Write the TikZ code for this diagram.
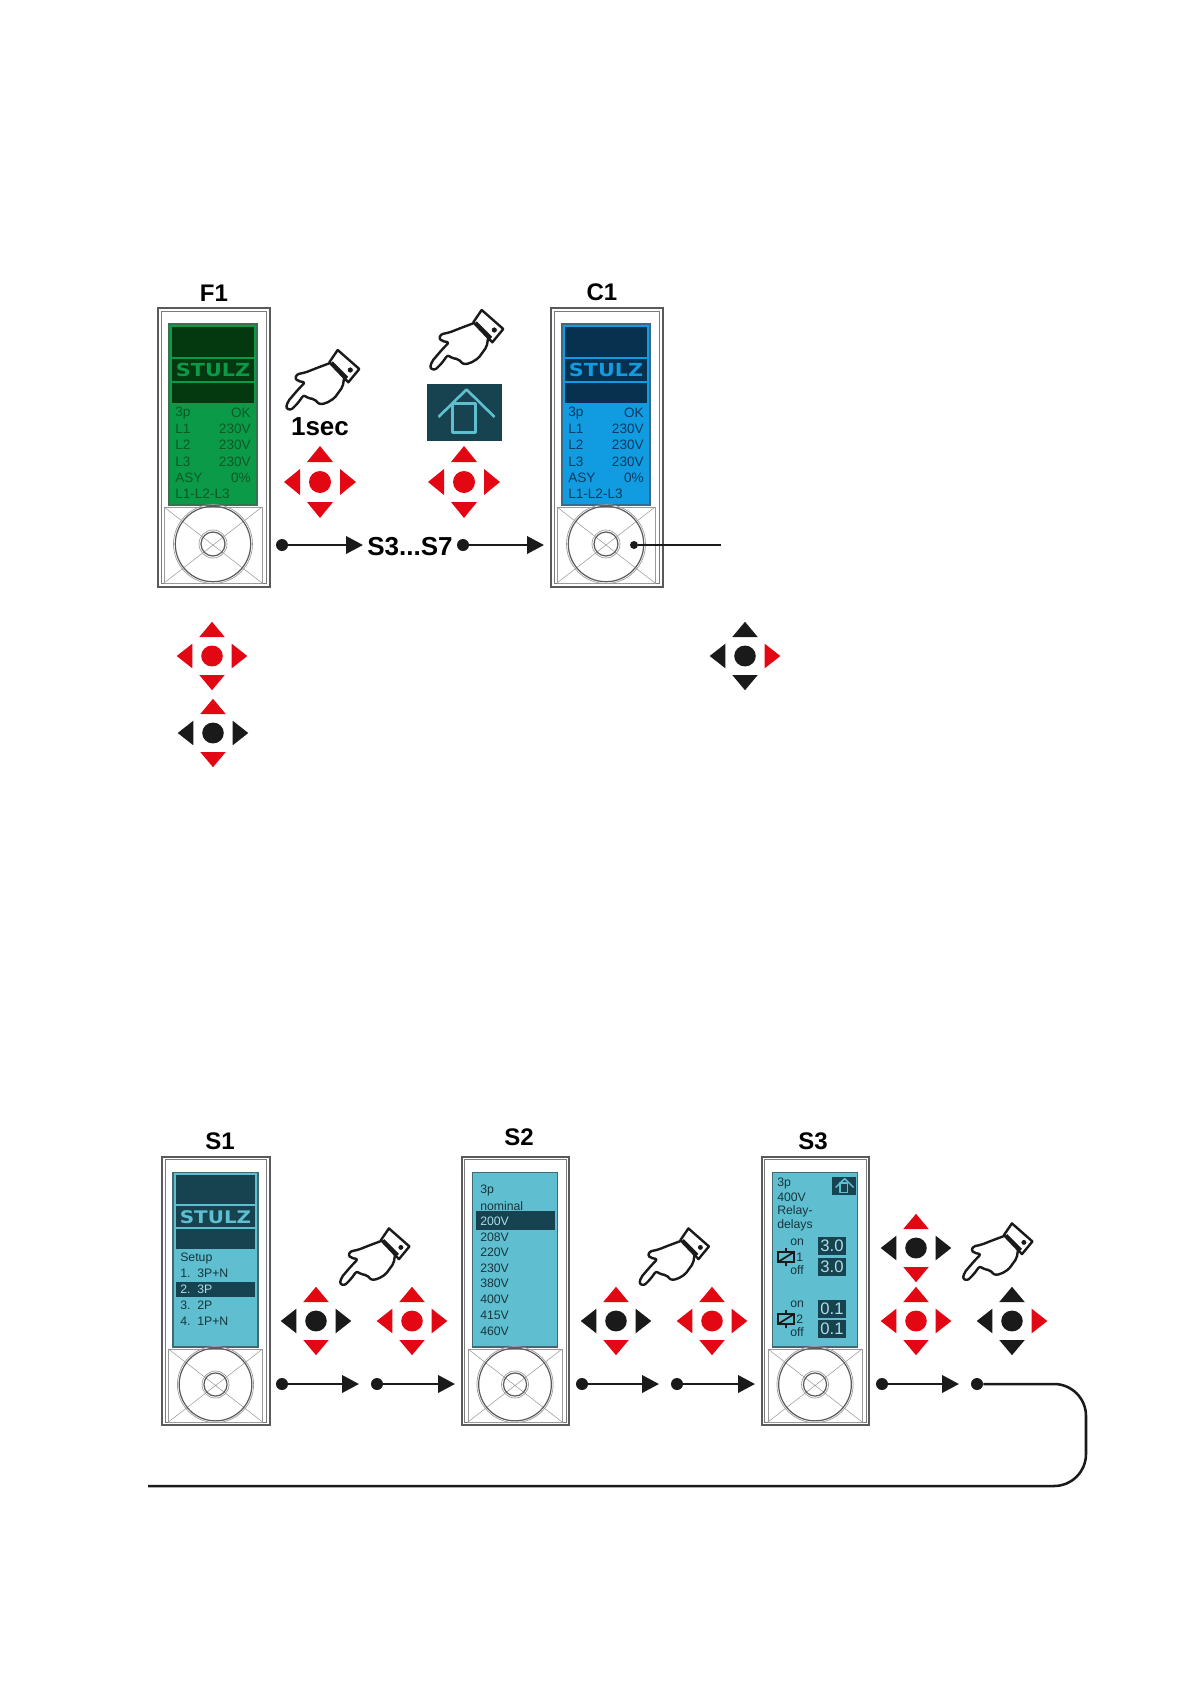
\documentclass[tikz,border=0pt]{standalone}
\usepackage{fontspec}
\setmainfont{Liberation Sans}
\newfontfamily\logofont{DejaVu Sans}
\usetikzlibrary{arrows.meta}
\definecolor{markred}{HTML}{E30613}
\definecolor{markblack}{HTML}{1A1A1A}
\definecolor{framegray}{HTML}{5A5A5A}
\definecolor{knobgray}{HTML}{9A9A9A}
\definecolor{lcdgreen}{HTML}{0A9A48}
\definecolor{lcdgreenB}{HTML}{3C6E50}
\definecolor{darkgreen}{HTML}{04380F}
\definecolor{textgreen}{HTML}{0B5A25}
\definecolor{lcdblue}{HTML}{119BE0}
\definecolor{lcdblueB}{HTML}{3A6A85}
\definecolor{darkblue}{HTML}{07314F}
\definecolor{textblue}{HTML}{0A3A5E}
\definecolor{lcdteal}{HTML}{5FBFD0}
\definecolor{lcdtealB}{HTML}{3F6A72}
\definecolor{darkteal}{HTML}{17424F}
\definecolor{textteal}{HTML}{17353D}
\definecolor{lightteal}{HTML}{A9DEE8}
\begin{document}
\begin{tikzpicture}[x=.75pt,y=-.75pt,
    title/.style={font=\fontsize{18}{20}\selectfont\bfseries, inner sep=0pt},
    lcd/.style={font=\fontsize{10.2}{12}\selectfont, inner sep=0pt},
    lcdS/.style={font=\fontsize{9.2}{11}\selectfont, inner sep=0pt, anchor=west, text=textteal},
    logo/.style={font=\logofont\fontsize{13.5}{15}\selectfont\bfseries, inner sep=0pt, xscale=1.15, transform shape},
    valbox/.style={fill=darkteal, text=lightteal, minimum width=21pt, minimum height=13.5pt, inner sep=0pt, font=\fontsize{12.5}{14}\selectfont},
    dot/.style={circle, fill=markblack, inner sep=0pt, minimum size=9pt},
    edge/.style={-{Triangle[length=12.7pt,width=13pt]}, line width=1.9pt, draw=markblack},
    wire/.style={line width=1.9pt, draw=markblack},
    pics/panel/.style n args={2}{code={
      \draw[framegray, line width=1.5pt] (-56,-139.5) rectangle (56,139.5);
      \draw[framegray!80, line width=.7pt] (-52.5,-136) rectangle (52.5,136);
      \fill[#1, draw=#2, line width=1.2pt] (-44.5,-123) rectangle (43.5,58);
      \draw[knobgray, line width=.4pt] (-49.5,60) rectangle (48.5,136);
      \draw[knobgray, line width=.4pt] (-49.5,60) -- (48.5,136) (-49.5,136) -- (48.5,60);
      \draw[knobgray, line width=.5pt] (-.5,97) circle[radius=39.5];
      \draw[framegray, line width=.9pt] (-.5,97) circle[radius=37.7];
      \draw[knobgray, line width=.5pt] (-.5,97) circle[radius=14];
      \draw[framegray, line width=.9pt] (-.5,97) circle[radius=12];
    }},
    pics/bands/.style n args={2}{code={
      \fill[#1] (-41.5,-120) rectangle (40.5,-90);
      \fill[#1] (-41.5,-88) rectangle (40.5,-66);
      \fill[#1] (-41.5,-64.5) rectangle (40.5,-44);
      \node[logo, text=#2] (name) at (-.5,-77) {STULZ};
    }},
    pics/dpad/.style n args={3}{code={
      \fill[#1] (0,-36) -- (13,-20) -- (-13,-20) -- cycle;
      \fill[#1] (0,36) -- (13,20) -- (-13,20) -- cycle;
      \fill[#2] (-36,0) -- (-20,-13) -- (-20,13) -- cycle;
      \fill[#3] (36,0) -- (20,-13) -- (20,13) -- cycle;
      \fill[#2] (0,0) circle[radius=11];
    }},
    pics/hand/.style={code={
      \draw[markblack, line width=1.8pt, line join=round, rounded corners=1.6pt, fill=white]
        (7.3,-14.7) -- (-6,-9.7) -- (-16,-5.7) -- (-25,-3.7) -- (-27,.3) -- (-24.3,3) -- (-17,4.3)
        -- (-24.3,12) -- (-34.3,23.7) -- (-36,30.3) -- (-31,32) -- (-24.3,25.3) -- (-18.3,17) -- (-13.7,20.3)
        -- (-7.7,21) -- (-2.7,26.3) -- (4,25.3) -- (12.3,20.3) -- (20.7,8.7) -- (22.3,-1.3);
      \draw[markblack, line width=1.8pt, line join=round, fill=white]
        (15.7,-28) -- (37.3,-9) -- (26.3,4.3) -- (7.3,-15.7) -- cycle;
      \draw[markblack, line width=2.6pt] (9.5,-15.5) -- (25,0);
      \fill[markblack] (28.3,-8) circle[radius=2.6];
    }},
    pics/home/.style={code={
      \fill[darkteal] (-37.5,-28.5) rectangle (37.5,28.5);
      \draw[lcdteal, line join=round] (-26,4.5) -- (2,-23) -- (30,4.5);
      \draw[lcdteal, line join=round] (-12,-9) rectangle (11,20);
    }},
    pics/relay/.style={code={
      \draw[markblack, line width=1.3pt] (-8,-5) rectangle (8,5);
      \draw[markblack, line width=1.3pt] (0,-9) -- (0,-5) (0,5) -- (0,9) (-8,5) -- (8,-5);
    }}]

  \useasboundingbox (0,0) rectangle (1191,1684);

  \pic (panF) at (213.5,447) {panel={lcdgreen}{lcdgreenB}};
  \pic (banF) at (213.5,447) {bands={darkgreen}{lcdgreen}};
  \pic (panC) at (606.5,447) {panel={lcdblue}{lcdblueB}};
  \pic (banC) at (606.5,447) {bands={darkblue}{lcdblue}};
  \pic[scale=.964] (panA) at (216,1291) {panel={lcdteal}{lcdtealB}};
  \pic[scale=.964] (banA) at (216,1291) {bands={darkteal}{lcdteal}};
  \pic[scale=.964] (panB) at (515.5,1291) {panel={lcdteal}{lcdtealB}};
  \pic[scale=.964] (panD) at (815.5,1291) {panel={lcdteal}{lcdtealB}};

  \node[title] (f1) at (214,293) {F1};
  \node[title] (c1) at (602,292) {C1};
  \node[title] (s1) at (220,1141) {S1};
  \node[title] (s2) at (519,1137) {S2};
  \node[title] (s3) at (813,1141) {S3};
  \node[title, font=\fontsize{19.5}{21}\selectfont\bfseries] (sec) at (320,427) {1sec};
  \node[title, font=\fontsize{19.5}{21}\selectfont\bfseries] (range) at (410,547) {S3...S7};

  \foreach \y/\a/\b in {413/3p/OK,429/L1/230V,445/L2/230V,462/L3/230V,478/ASY/0\%} {
    \node[lcd, anchor=west, text=textgreen] (fl\y) at (175,\y) {\a};
    \node[lcd, anchor=east, text=textgreen] (fr\y) at (251,\y) {\b};
    \node[lcd, anchor=west, text=textblue] (cl\y) at (568,\y) {\a};
    \node[lcd, anchor=east, text=textblue] (cr\y) at (644,\y) {\b};
  }
  \node[lcd, anchor=west, text=textgreen] (fl494) at (175,494) {L1-L2-L3};
  \node[lcd, anchor=west, text=textblue] (cl494) at (568,494) {L1-L2-L3};

  \fill[darkteal] (176,1282) rectangle (255,1297);
  \node[lcdS] (setup) at (180,1258) {Setup};
  \foreach \y/\a/\b/\c in {1273/1./3P+N/textteal,1289/2./3P/lightteal,1305/3./2P/textteal,1321/4./1P+N/textteal} {
    \node[lcdS, text=\c] (sn\y) at (180,\y) {\a};
    \node[lcdS, text=\c] (sv\y) at (197,\y) {\b};
  }

  \fill[darkteal] (476,1211) rectangle (555,1230);
  \foreach \y/\a/\c in {1190/3p/textteal,1206/nominal/textteal,1221/200V/lightteal,1237/208V/textteal,1252/220V/textteal,1268/230V/textteal,1283/380V/textteal,1299/400V/textteal,1315/415V/textteal,1331/460V/textteal} {
    \node[lcdS, text=\c] (v\y) at (480,\y) {\a};
  }

  \foreach \y/\a in {1183/3p,1197/400V,1211/Relay-,1225/delays} {
    \node[lcdS] (r\y) at (777,\y) {\a};
  }
  \pic[scale=.32, line width=1.1pt] (homeS) at (844,1186) {home};
  \pic (relA) at (786,1257) {relay};
  \pic (relB) at (786,1319) {relay};
  \foreach \y/\a in {1242/on,1270/off,1304/on,1332/off} {
    \node[lcdS] (t\y) at (790,\y) {\a};
  }
  \node[lcdS] (one) at (796,1257) {1};
  \node[lcdS] (two) at (796,1319) {2};
  \node[valbox] (va) at (832,1246) {3.0};
  \node[valbox] (vb) at (832,1267) {3.0};
  \node[valbox] (vc) at (832,1309) {0.1};
  \node[valbox] (vd) at (832,1329) {0.1};

  \pic (handA) at (322,378) {hand};
  \pic (handB) at (466,338) {hand};
  \pic[scale=.95] (handC) at (374,1255) {hand};
  \pic[scale=.95] (handD) at (673.5,1255) {hand};
  \pic[scale=.95] (handE) at (997,1250) {hand};
  \pic[line width=2pt] (homeA) at (464.5,412.5) {home};

  \foreach \x/\y in {320/482,464/482} {
    \pic at (\x,\y) {dpad={markred}{markred}{markred}};
  }
  \foreach \x/\y in {212/656,412/1321,712/1321,916/1321} {
    \pic[xscale=.98, yscale=.95] at (\x,\y) {dpad={markred}{markred}{markred}};
  }
  \foreach \x/\y in {213/733,316/1321,616/1321,916/1248} {
    \pic[xscale=.98, yscale=.95] at (\x,\y) {dpad={markred}{markblack}{markblack}};
  }
  \foreach \x/\y in {745/656,1012/1321} {
    \pic[xscale=.98, yscale=.95] at (\x,\y) {dpad={markblack}{markblack}{markred}};
  }

  \node[dot] (d1) at (282,545) {};
  \node[dot] (d2) at (463,545) {};
  \node[dot, minimum size=6pt] (d3) at (634,545) {};
  \coordinate (e1) at (363,545);
  \coordinate (e2) at (544,545);
  \coordinate (e3) at (721,545);
  \draw[edge] (d1) -- (e1);
  \draw[edge] (d2) -- (e2);
  \draw[markblack, line width=1.1pt] (d3) -- (e3);

  \foreach \i/\a/\b in {4/282/359,5/377/455,6/582/659,7/677/755,8/882/959} {
    \node[dot] (d\i) at (\a,1384) {};
    \coordinate (e\i) at (\b,1384);
    \draw[edge] (d\i) -- (e\i);
  }
  \node[dot] (d9) at (977,1384) {};
  \coordinate (end) at (148,1486);
  \draw[wire, rounded corners=24pt] (d9) -- (1086,1384) -- (1086,1486) -- (end);
\end{tikzpicture}
\end{document}
